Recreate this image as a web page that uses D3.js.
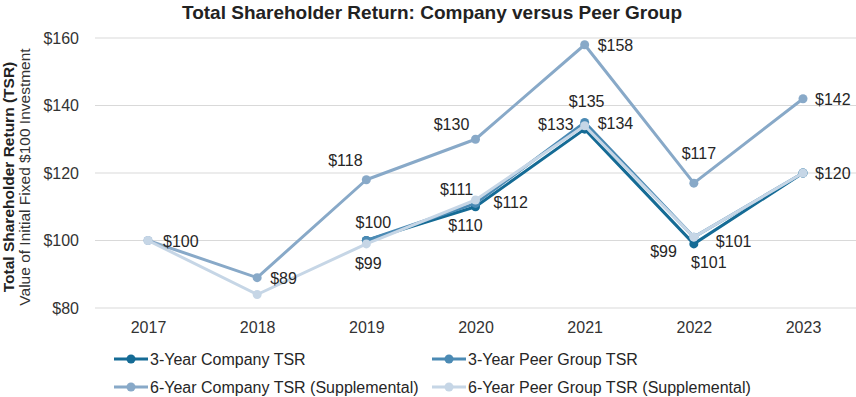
<!DOCTYPE html>
<html>
<head>
<meta charset="utf-8">
<script src="https://cdn.jsdelivr.net/npm/d3@7"></script>
<style>
  body { margin: 0; background: #fff; }
  svg { display: block; font-family: Arial, "Liberation Sans", sans-serif; }
</style>
</head>
<body>
<div id="chart"></div>
<script>
// Chart data
const years = [2017, 2018, 2019, 2020, 2021, 2022, 2023];
const yTicks = [80, 100, 120, 140, 160];

const company3 = [null, null, 100, 110, 133, 99, 120];
const peer3 = [null, null, 100, 111, 135, 101, 120];
const company6 = [100, 89, 118, 130, 158, 117, 142];
const peer6 = [100, 84, 99, 112, 134, 101, 120];

const seriesList = [
  { key: 'c6', name: '6-Year Company TSR (Supplemental)', values: company6, color: '#88a9c8' },
  { key: 'c3', name: '3-Year Company TSR', values: company3, color: '#156b95' },
  { key: 'p3', name: '3-Year Peer Group TSR', values: peer3, color: '#4b8ab4' },
  { key: 'p6', name: '6-Year Peer Group TSR (Supplemental)', values: peer6, color: '#c6d6e6' }
];
const legendOrder = ['c3', 'p3', 'c6', 'p6'];

// value label offsets from each point: [dx, dy (baseline), anchor]; null = no label
const labelLayout = {
  c6: [[15, 6, 'start'], [13, 6, 'start'], [-21, -14, 'middle'], [-24, -9, 'middle'],
       [13, 6, 'start'], [5, -24, 'middle'], [12, 6, 'start']],
  c3: [null, null, null, [-10, 24, 'middle'], [-11, 1, 'end'], [-17, 13, 'end'], null],
  p3: [null, null, [7, -13, 'middle'], [-19, -8, 'middle'], [2, -15, 'middle'], [15, 31, 'middle'], null],
  p6: [null, null, [2, 25, 'middle'], [18, 8, 'start'], [13, 3, 'start'], [22, 10, 'start'], [12, 6, 'start']]
};

const width = 856, height = 397;
const margin = { left: 95, right: 0, top: 38, bottom: 89 };
const font = 'Arial, "Liberation Sans", sans-serif';

const svg = d3.select('#chart').append('svg')
  .attr('width', width).attr('height', height);

const x = d3.scalePoint().domain(years).range([148, 803]);
const y = d3.scaleLinear().domain([80, 160]).range([height - margin.bottom, margin.top]);

// Title
svg.append('text')
  .attr('x', 432).attr('y', 19)
  .attr('text-anchor', 'middle')
  .attr('font-size', '19px').attr('font-weight', 'bold').attr('fill', '#222')
  .text('Total Shareholder Return: Company versus Peer Group');

// Grid lines
svg.append('g').selectAll('line')
  .data(yTicks).enter().append('line')
  .attr('x1', margin.left).attr('x2', width)
  .attr('y1', d => y(d)).attr('y2', d => y(d))
  .attr('stroke', '#d9d9d9').attr('stroke-width', 1.2);

// Y axis labels
const yAxis = svg.append('g')
  .attr('transform', `translate(${margin.left - 13},0)`)
  .call(d3.axisLeft(y).tickValues(yTicks).tickSize(0).tickFormat(d => '$' + d));
yAxis.select('.domain').remove();
yAxis.selectAll('text').attr('font-size', '16px').attr('fill', '#333').attr('font-family', font);

// X axis labels
const xAxis = svg.append('g')
  .attr('transform', `translate(0,${y(80) + 11})`)
  .call(d3.axisBottom(x).tickSize(0).tickFormat(d => String(d)));
xAxis.select('.domain').remove();
xAxis.selectAll('text').attr('font-size', '16px').attr('fill', '#333').attr('font-family', font);

// Y axis titles
const yTitle = svg.append('g').attr('transform', 'translate(0,177) rotate(-90)');
yTitle.append('text')
  .attr('x', 0).attr('y', 14)
  .attr('text-anchor', 'middle')
  .attr('font-size', '15.5px').attr('font-weight', 'bold').attr('fill', '#222')
  .text('Total Shareholder Return (TSR)');
yTitle.append('text')
  .attr('x', 0).attr('y', 30)
  .attr('text-anchor', 'middle')
  .attr('font-size', '15.5px').attr('fill', '#333')
  .text('Value of Initial Fixed $100 Investment');

// Lines and points
const line = d3.line()
  .defined(d => d.v != null)
  .x(d => x(d.year)).y(d => y(d.v));

seriesList.forEach(s => {
  const pts = years.map((yr, i) => ({ year: yr, v: s.values[i] }));
  svg.append('path')
    .datum(pts)
    .attr('fill', 'none')
    .attr('stroke', s.color)
    .attr('stroke-width', 3)
    .attr('stroke-linejoin', 'round')
    .attr('d', line);
  svg.append('g').selectAll('circle')
    .data(pts.filter(d => d.v != null)).enter().append('circle')
    .attr('cx', d => x(d.year)).attr('cy', d => y(d.v))
    .attr('r', 4.5).attr('fill', s.color);
});

// Data labels
const labelGroup = svg.append('g');
seriesList.forEach(s => {
  years.forEach((yr, i) => {
    const p = labelLayout[s.key][i];
    if (!p || s.values[i] == null) return;
    labelGroup.append('text')
      .attr('x', x(yr) + p[0]).attr('y', y(s.values[i]) + p[1])
      .attr('text-anchor', p[2])
      .attr('font-size', '16px').attr('fill', '#262626')
      .text('$' + s.values[i]);
  });
});

// Legend
const legend = svg.append('g');
legendOrder.forEach((key, i) => {
  const s = seriesList.find(d => d.key === key);
  const lx = i % 2 === 0 ? 114 : 432;
  const ly = i < 2 ? 359 : 387;
  const item = legend.append('g').attr('transform', `translate(${lx},${ly})`);
  item.append('line').attr('x1', 0).attr('x2', 34).attr('y1', 0).attr('y2', 0)
    .attr('stroke', s.color).attr('stroke-width', 3);
  item.append('circle').attr('cx', 17).attr('cy', 0).attr('r', 4.5).attr('fill', s.color);
  item.append('text').attr('x', 36).attr('y', 6)
    .attr('font-size', '16px').attr('fill', '#262626')
    .text(s.name);
});
</script>
</body>
</html>
